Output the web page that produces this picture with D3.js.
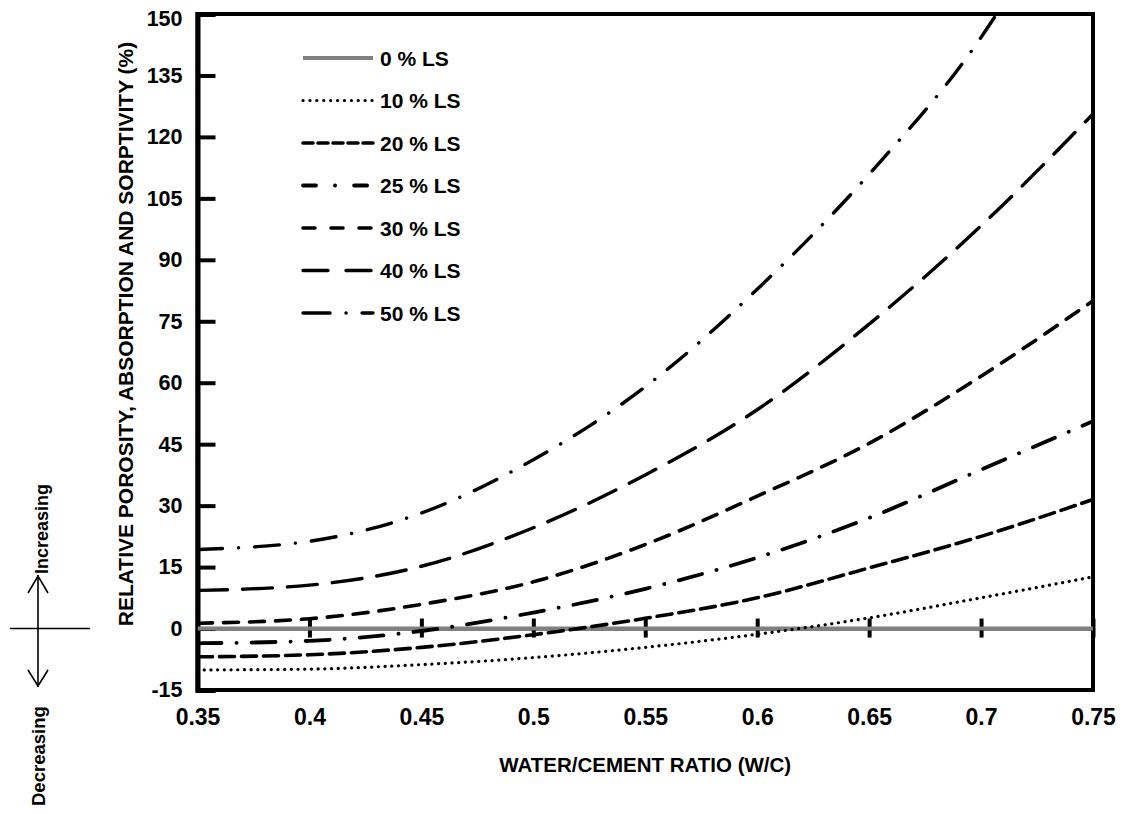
<!DOCTYPE html>
<html><head><meta charset="utf-8">
<script src="https://cdn.jsdelivr.net/npm/d3@7"></script>
<style>
body{margin:0;background:#fff}
svg{display:block}
text{font-family:"Liberation Sans",Arial,sans-serif;font-weight:bold;fill:#000}
</style>
</head><body><svg id="c" width="1123" height="814"></svg>
<script>
// ---- data ----
const wc   = [0.35, 0.40, 0.45, 0.50, 0.55, 0.60, 0.65, 0.70, 0.75];
const ls0  = [0, 0, 0, 0, 0, 0, 0, 0, 0];
const ls10 = [-10.1, -9.9, -8.8, -7.1, -4.6, -1.4, 2.6, 7.5, 12.6];
const ls20 = [-6.9, -6.4, -4.6, -1.5, 2.5, 7.5, 14.8, 22.5, 31.5];
const ls25 = [-3.6, -3.0, -0.6, 3.9, 9.7, 17.3, 27.0, 38.8, 50.6];
const ls30 = [1.3, 2.4, 5.9, 11.4, 20.5, 32.3, 45.2, 61.6, 80.0];
const ls40 = [9.3, 10.6, 15.2, 24.6, 37.5, 53.4, 74.3, 98.3, 125.6];
const wc50 = [0.35, 0.40, 0.45, 0.50, 0.55, 0.60, 0.65, 0.70, 0.707];
const ls50 = [19.3, 21.3, 28.2, 41.2, 59.0, 82.8, 110.9, 144.3, 150];
const seriesNames = ["0 % LS", "10 % LS", "20 % LS", "25 % LS", "30 % LS", "40 % LS", "50 % LS"];
const xTicks = [0.35, 0.4, 0.45, 0.5, 0.55, 0.6, 0.65, 0.7, 0.75];
const yTicks = [-15, 0, 15, 30, 45, 60, 75, 90, 105, 120, 135, 150];
const xTitle = "WATER/CEMENT RATIO (W/C)";
const yTitle = "RELATIVE POROSITY, ABSORPTION AND SORPTIVITY (%)";

// ---- styles ----
const styles = [
  {color:"#808080", w:4,   dash:null,            ldash:null,           cap:"butt"},
  {color:"#000",    w:3.2, dash:"0.1,6.6",       ldash:"0.1,6.8",      cap:"round"},
  {color:"#000",    w:3.6, dash:"15,7",          ldash:"10,5",         cap:"round"},
  {color:"#000",    w:3.8, dash:"24,15,0.1,15",  ldash:"13,19,0.1,19", cap:"round"},
  {color:"#000",    w:3.6, dash:"15,11",         ldash:"12,16",        cap:"round"},
  {color:"#000",    w:3.4, dash:"30,15",         ldash:"25,18",        cap:"round"},
  {color:"#000",    w:3.4, dash:"25,16,0.1,16",  ldash:"27,16,0.1,16", cap:"round"}
];

const svg = d3.select("#c");
const L = 197.5, R = 1093, T = 14, B = 690;
const x = d3.scaleLinear().domain([0.35, 0.75]).range([L, R]);
const y = d3.scaleLinear().domain([-15, 150]).range([B, T]);

svg.append("defs").append("clipPath").attr("id","clip")
  .append("rect").attr("x",L).attr("y",T).attr("width",R-L).attr("height",B-T);

// frame
svg.append("rect").attr("x",L).attr("y",T).attr("width",R-L).attr("height",B-T)
  .attr("fill","none").attr("stroke","#000").attr("stroke-width",4);

// y axis (ticks inside)
const yAx = svg.append("g").attr("transform",`translate(${L},0)`)
  .call(d3.axisLeft(y).tickValues(yTicks).tickSize(-18).tickPadding(15).tickFormat(d=>String(d)));
yAx.select(".domain").attr("stroke","#000").attr("stroke-width",5);
yAx.selectAll(".tick line").attr("stroke","#000").attr("stroke-width",4);
yAx.selectAll(".tick text").attr("font-size",21.5).attr("font-family","Liberation Sans, Arial, sans-serif").attr("font-weight","bold");
yAx.selectAll(".tick text").filter(d => d === yTicks[yTicks.length-1]).attr("y",5);

// x axis line at zero with crossing ticks
const xAx = svg.append("g").attr("transform",`translate(0,${y(0)})`)
  .call(d3.axisBottom(x).tickValues(xTicks).tickSize(0).tickFormat(""));
xAx.select(".domain").attr("stroke","#000").attr("stroke-width",3);
xAx.selectAll(".tick line").attr("y1",-10).attr("y2",9).attr("stroke","#000").attr("stroke-width",4);

// x labels at bottom
const xLab = svg.append("g").attr("transform",`translate(0,${B})`)
  .call(d3.axisBottom(x).tickValues(xTicks).tickSize(0).tickPadding(19).tickFormat(d=>String(d)));
xLab.select(".domain").remove();
xLab.selectAll(".tick text").attr("font-size",23).attr("font-family","Liberation Sans, Arial, sans-serif").attr("font-weight","bold");

// series
const series = [
  {xs:wc, ys:ls0}, {xs:wc, ys:ls10}, {xs:wc, ys:ls20}, {xs:wc, ys:ls25},
  {xs:wc, ys:ls30}, {xs:wc, ys:ls40}, {xs:wc50, ys:ls50}
];
const line = d3.line().x(d=>x(d[0])).y(d=>y(d[1])).curve(d3.curveMonotoneX);
const plot = svg.append("g").attr("clip-path","url(#clip)");
series.forEach((s,i)=>{
  const st = styles[i];
  plot.append("path")
    .datum(s.xs.map((v,j)=>[v, s.ys[j]]))
    .attr("d", line)
    .attr("fill","none")
    .attr("stroke", st.color)
    .attr("stroke-width", st.w)
    .attr("stroke-linecap", st.cap)
    .attr("stroke-dasharray", st.dash);
});

// legend
const lg = svg.append("g");
seriesNames.forEach((n,i)=>{
  const st = styles[i];
  const cy = 58 + i*42.5;
  lg.append("line").attr("x1",303).attr("x2",373).attr("y1",cy).attr("y2",cy)
    .attr("stroke",st.color).attr("stroke-width",st.w)
    .attr("stroke-linecap", st.cap).attr("stroke-dasharray", st.ldash);
  lg.append("text").attr("x",380).attr("y",cy+7.5).attr("font-size",21).text(n);
});

// axis titles
svg.append("text").attr("x",(L+R)/2).attr("y",772).attr("text-anchor","middle")
  .attr("font-size",20.5).text(xTitle);
svg.append("text").attr("transform","translate(133,334) rotate(-90)")
  .attr("text-anchor","middle").attr("font-size",21).text(yTitle);

// increasing / decreasing indicator
const ind = svg.append("g").attr("stroke","#000").attr("stroke-width",1.6).attr("fill","none");
ind.append("line").attr("x1",10).attr("x2",90).attr("y1",y(0)).attr("y2",y(0));
ind.append("line").attr("x1",38).attr("x2",38).attr("y1",575).attr("y2",687);
ind.append("polyline").attr("points","28,593 38,576 48,593");
ind.append("polyline").attr("points","28,670 38,686 48,670");
svg.append("text").attr("transform","translate(48,574) rotate(-90)")
  .attr("text-anchor","start").attr("font-size",18).text("Increasing");
svg.append("text").attr("transform","translate(45,806) rotate(-90)")
  .attr("text-anchor","start").attr("font-size",18.5).text("Decreasing");
</script>
</body></html>
